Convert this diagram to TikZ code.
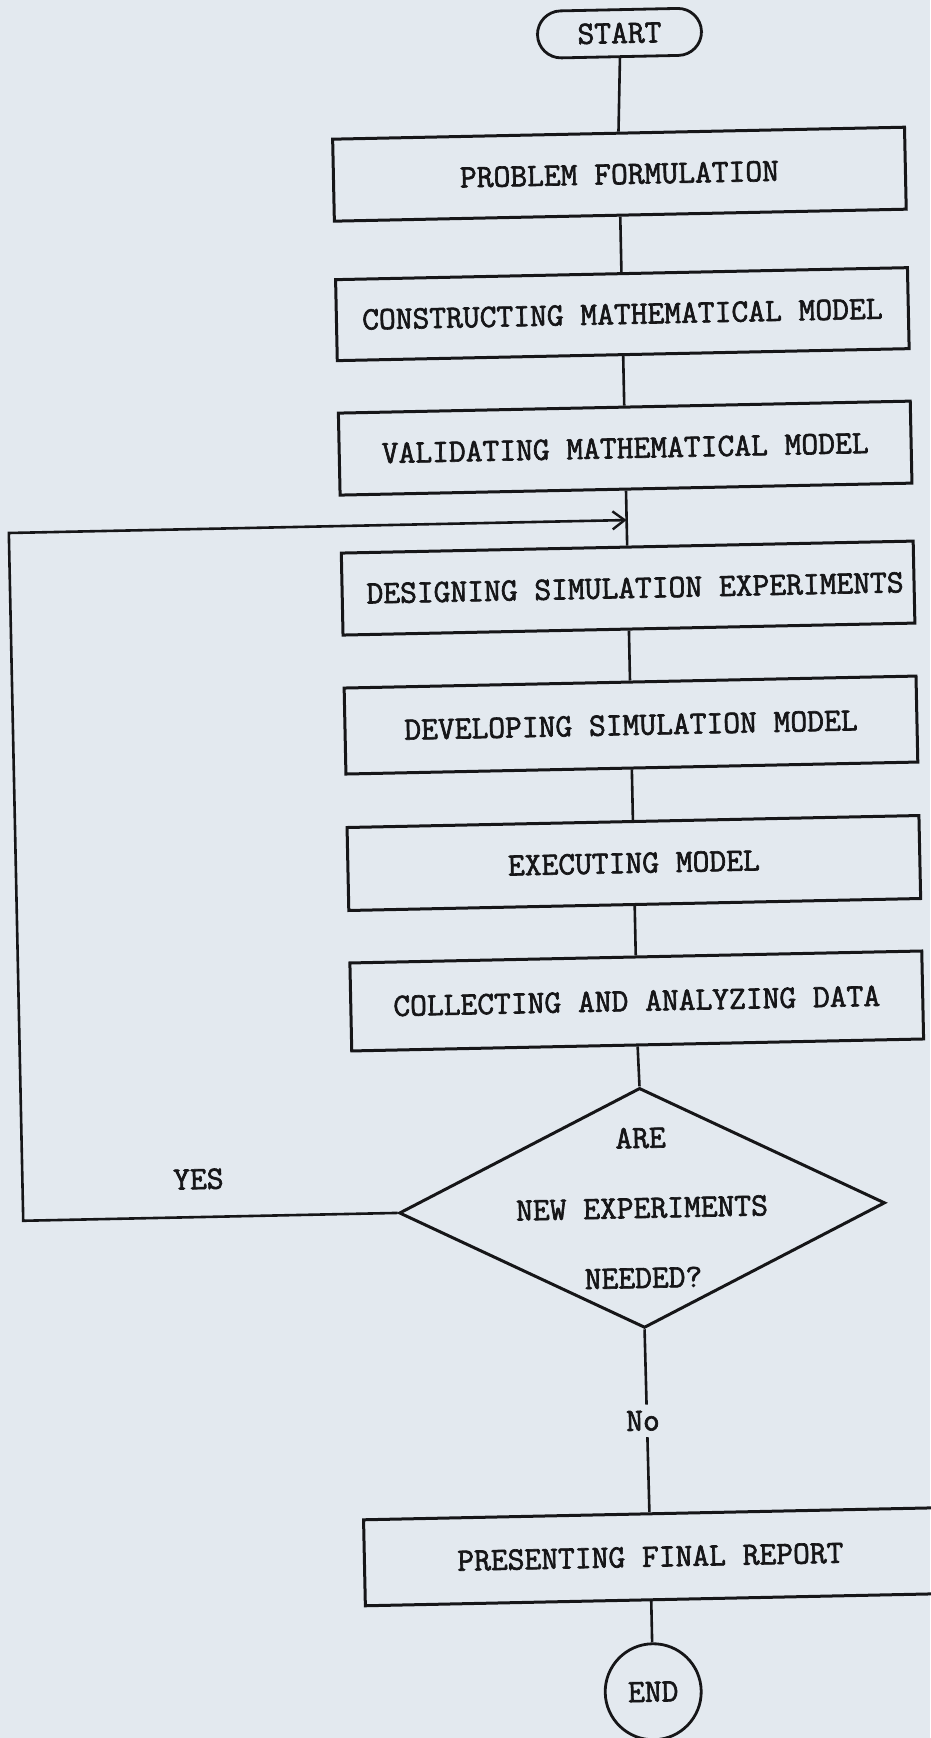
\documentclass[tikz,border=0pt]{standalone}
\usepackage{fontspec}
\IfFontExistsTF{Latin Modern Mono}
  {\newfontfamily\typewriter[FakeBold=2]{Latin Modern Mono}}
  {\newfontfamily\typewriter[FakeBold=2]{Liberation Mono}}
\usetikzlibrary{shapes.geometric, arrows.meta, calc}
\definecolor{paper}{RGB}{227,233,239}
\definecolor{ink}{RGB}{22,22,24}
\begin{document}
\begin{tikzpicture}[x=1pt, y=-1pt,
  txt/.style={font=\typewriter\fontsize{32.6}{38}\selectfont, text=ink},
  box/.style={txt, draw=ink, line width=3pt, minimum width=572pt,
              inner sep=0pt},
  term/.style={txt, draw=ink, line width=2.8pt, inner sep=0pt},
  conn/.style={draw=ink, line width=2.6pt},
]
% page
\fill[paper] (0,0) rectangle (930,1738);
\useasboundingbox (0,0) rectangle (930,1738);

\begin{scope}[rotate around={1.2:(634,870)}, transform shape]
  % terminals
  \node[term, rounded corners=23.5pt, minimum width=164pt, minimum height=47pt]
       (start) at (637,33) {START};
  \node[term, circle, minimum size=96pt] (stop) at (636,1692) {END};

  % process steps
  \node[box, minimum height=82pt] (pf)  at (634,174)  {PROBLEM FORMULATION};
  \node[box, minimum height=81pt] (cm)  at (634,314)  {CONSTRUCTING MATHEMATICAL MODEL};
  \node[box, minimum height=82pt] (vm)  at (634,448)  {VALIDATING MATHEMATICAL MODEL};
  \node[box, minimum height=82pt] (dse) at (634,588)  {\hspace*{14pt}DESIGNING SIMULATION EXPERIMENTS};
  \node[box, minimum height=86pt] (dsm) at (634,725)  {DEVELOPING SIMULATION MODEL};
  \node[box, minimum height=83pt] (em)  at (634,863)  {EXECUTING MODEL};
  \node[box, minimum height=88pt] (cad) at (634,1001) {COLLECTING AND ANALYZING DATA};
  \node[box, minimum height=86pt] (pfr) at (636,1557) {PRESENTING FINAL REPORT};

  % decision
  \node[draw=ink, line width=3pt, diamond, minimum width=486pt,
        minimum height=240pt, inner sep=0pt] (dq) at (635,1208) {};
  \node[txt, align=center, inner sep=0pt] (dqtext) at (dq.center)
       {ARE\\[32pt]NEW EXPERIMENTS\\[32pt]NEEDED?};

  % main flow
  \draw[conn] (start.south) -- (pf.north);
  \draw[conn] (pf.south) -- (cm.north);
  \draw[conn] (cm.south) -- (vm.north);
  \draw[conn] (vm.south) -- (dse.north);
  \draw[conn] (dse.south) -- (dsm.north);
  \draw[conn] (dsm.south) -- (em.north);
  \draw[conn] (em.south) -- (cad.north);
  \draw[conn] (cad.south) -- (dq.north);
  \draw[conn] (pfr.south) -- (stop.north);
  \draw[conn] (dq.south) -- node[txt, fill=paper, inner xsep=2pt, inner ysep=6pt,
       xshift=-4pt] (nolabel) {No} (pfr.north);

  % loop back for new experiments
  \coordinate (join) at ($(vm.south)!0.5!(dse.north)$);
  \coordinate (ltop) at (16,520);
  \draw[conn, -{Straight Barb[length=12pt, width=18pt, line width=2.4pt]}]
       (dq.west) -- (dq.west -| ltop) -- (ltop) -- (ltop -| join);
  \node[txt] (yes) at (192,1170) {YES};
\end{scope}
\end{tikzpicture}
\end{document}
